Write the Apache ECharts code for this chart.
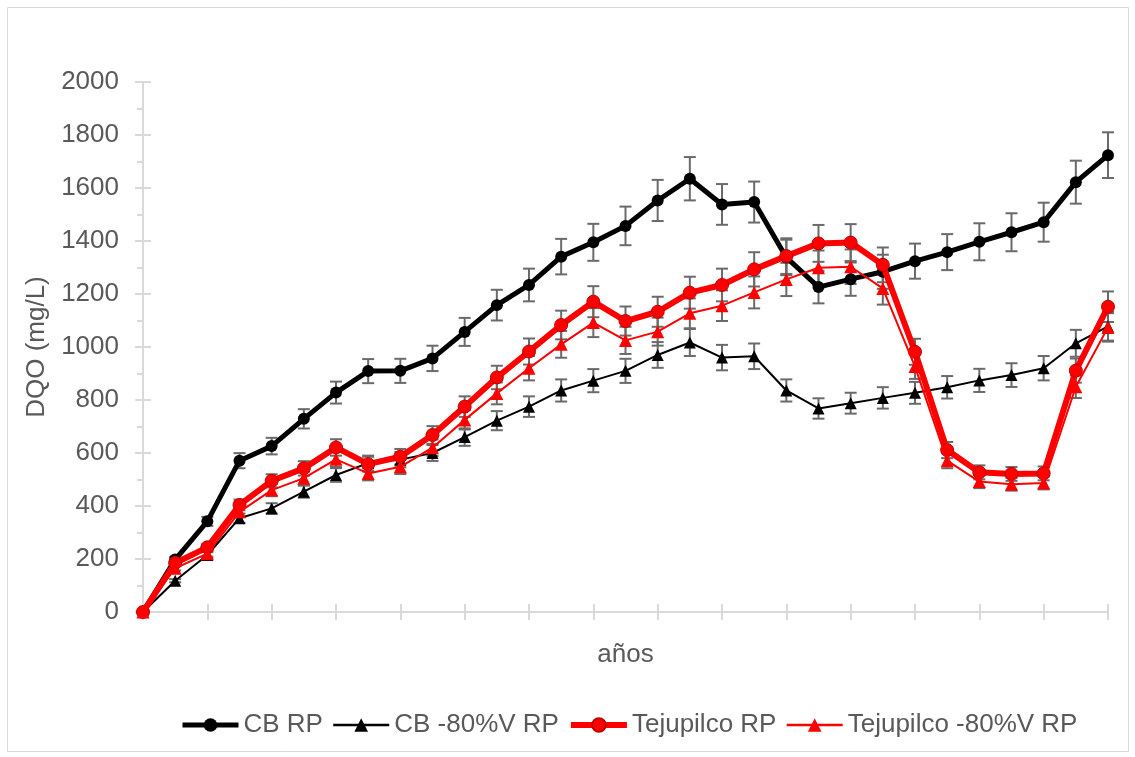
<!DOCTYPE html>
<html>
<head>
<meta charset="utf-8">
<script src="https://cdn.jsdelivr.net/npm/echarts@6/dist/echarts.min.js"></script>
<style>
html,body{margin:0;padding:0;background:#fff;}
#chart{width:1135px;height:757px;}
</style>
</head>
<body>
<div id="chart"></div>
<script>
// ---- data ----
const categories = ['0','1','2','3','4','5','6','7','8','9','10','11','12','13','14','15','16','17','18','19','20','21','22','23','24','25','26','27','28','29','30'];
const seriesNames = ['CB RP', 'CB -80%V RP', 'Tejupilco RP', 'Tejupilco -80%V RP'];
const cbRP = [0, 198, 342, 571, 626, 729, 828, 909, 910, 957, 1057, 1158, 1234, 1341, 1395, 1457, 1553, 1635, 1538, 1547, 1338, 1226, 1256, 1284, 1324, 1358, 1397, 1433, 1471, 1622, 1724];
const cb80 = [0, 118, 215, 354, 391, 454, 517, 562, 575, 600, 660, 722, 775, 836, 873, 910, 970, 1017, 960, 965, 836, 768, 788, 808, 827, 848, 874, 894, 920, 1014, 1078];
const tejRP = [0, 185, 244, 404, 495, 542, 621, 558, 586, 668, 775, 885, 983, 1083, 1171, 1098, 1133, 1205, 1234, 1293, 1343, 1391, 1394, 1310, 982, 611, 527, 521, 523, 911, 1152];
const tej80 = [0, 165, 220, 378, 460, 505, 576, 523, 548, 620, 725, 825, 920, 1010, 1092, 1025, 1058, 1127, 1156, 1206, 1255, 1299, 1303, 1221, 926, 571, 492, 482, 487, 850, 1074];
const yTicks = [0, 200, 400, 600, 800, 1000, 1200, 1400, 1600, 1800, 2000];
const errorPct = 0.05; // percentage error bars

const FONT = '"Liberation Sans", Arial, sans-serif';
const TXT = '#595959';
const AX = '#d9d9d9';

function errSeries(vals, name) {
  return {
    type: 'custom',
    name: name + ' (err)',
    z: 2,
    silent: true,
    data: vals.map((v, i) => [i, v]),
    renderItem: function (params, api) {
      const i = api.value(0), v = api.value(1);
      const top = api.coord([i, v * (1 + errorPct)]);
      const bot = api.coord([i, v * (1 - errorPct)]);
      const c = 6;
      const st = {stroke: '#6a6a6a', lineWidth: 2};
      return {
        type: 'group',
        children: [
          {type: 'line', shape: {x1: top[0], y1: top[1], x2: bot[0], y2: bot[1]}, style: st},
          {type: 'line', shape: {x1: top[0] - c, y1: top[1], x2: top[0] + c, y2: top[1]}, style: st},
          {type: 'line', shape: {x1: bot[0] - c, y1: bot[1], x2: bot[0] + c, y2: bot[1]}, style: st}
        ]
      };
    }
  };
}

const chart = echarts.init(document.getElementById('chart'), null, {renderer: 'canvas'});
const option = {
  backgroundColor: '#ffffff',
  animation: false,
  textStyle: {fontFamily: FONT},
  graphic: [{
    type: 'rect', shape: {x: 7.5, y: 7.5, width: 1121, height: 744},
    style: {fill: 'none', stroke: AX, lineWidth: 1}, z: -10, silent: true
  }],
  grid: {left: 143, right: 27, top: 82, bottom: 145, containLabel: false, outerBoundsMode: 'none'},
  legend: {
    data: [
      {name: seriesNames[0], lineStyle: {width: 5}},
      {name: seriesNames[1], lineStyle: {width: 2.5}},
      {name: seriesNames[2], lineStyle: {width: 6}},
      {name: seriesNames[3], lineStyle: {width: 2.5}}
    ],
    left: 180, top: 712, padding: 0,
    itemWidth: 56, itemHeight: 17, itemGap: 9,
    textStyle: {fontFamily: FONT, fontSize: 26, color: TXT}
  },
  xAxis: [{
    type: 'category', data: categories, boundaryGap: false,
    name: 'años', nameLocation: 'middle', nameGap: 30,
    nameTextStyle: {fontFamily: FONT, fontSize: 26, color: TXT},
    axisLine: {lineStyle: {color: AX, width: 2}},
    axisTick: {show: true, interval: 1, length: 8, inside: false, lineStyle: {color: AX, width: 2}},
    axisLabel: {show: false},
    splitLine: {show: false}
  }, {
    type: 'category', data: categories, boundaryGap: false, position: 'bottom',
    axisLine: {show: false},
    axisTick: {show: true, interval: 1, length: 8, inside: true, lineStyle: {color: AX, width: 2}},
    axisLabel: {show: false},
    splitLine: {show: false}
  }],
  yAxis: [{
    type: 'value', min: yTicks[0], max: yTicks[yTicks.length - 1], interval: 200,
    name: 'DQO (mg/L)', nameLocation: 'middle', nameGap: 82, nameRotate: 90,
    nameTextStyle: {fontFamily: FONT, fontSize: 26, color: TXT},
    axisLine: {show: true, lineStyle: {color: AX, width: 2}},
    axisTick: {show: true, length: 8, inside: false, lineStyle: {color: AX, width: 2}},
    minorTick: {show: true, splitNumber: 2, length: 6, lineStyle: {color: AX, width: 2}},
    axisLabel: {fontFamily: FONT, fontSize: 26, color: TXT, margin: 24, formatter: function (v) { return String(v); }},
    splitLine: {show: false}
  }, {
    type: 'value', min: yTicks[0], max: yTicks[yTicks.length - 1], interval: 200, position: 'left',
    axisLine: {show: false},
    axisTick: {show: true, length: 8, inside: true, lineStyle: {color: AX, width: 2}},
    axisLabel: {show: false},
    splitLine: {show: false}
  }],
  series: [
    errSeries(cbRP, seriesNames[0]),
    errSeries(cb80, seriesNames[1]),
    errSeries(tejRP, seriesNames[2]),
    errSeries(tej80, seriesNames[3]),
    {
      name: seriesNames[0], type: 'line', data: cbRP, z: 3,
      symbol: 'circle', symbolSize: 12, showAllSymbol: true,
      lineStyle: {color: '#000', width: 5}, itemStyle: {color: '#000'}
    },
    {
      name: seriesNames[1], type: 'line', data: cb80, z: 4,
      symbol: 'triangle', symbolSize: 12, showAllSymbol: true,
      lineStyle: {color: '#000', width: 2}, itemStyle: {color: '#000'}
    },
    {
      name: seriesNames[2], type: 'line', data: tejRP, z: 5,
      symbol: 'circle', symbolSize: 13, showAllSymbol: true,
      lineStyle: {color: '#ff0000', width: 6},
      itemStyle: {color: '#ff0000', borderColor: '#c00000', borderWidth: 1}
    },
    {
      name: seriesNames[3], type: 'line', data: tej80, z: 6,
      symbol: 'triangle', symbolSize: 13, showAllSymbol: true,
      lineStyle: {color: '#ff0000', width: 2}, itemStyle: {color: '#ff0000'}
    }
  ]
};
chart.setOption(option);
</script>
</body>
</html>
